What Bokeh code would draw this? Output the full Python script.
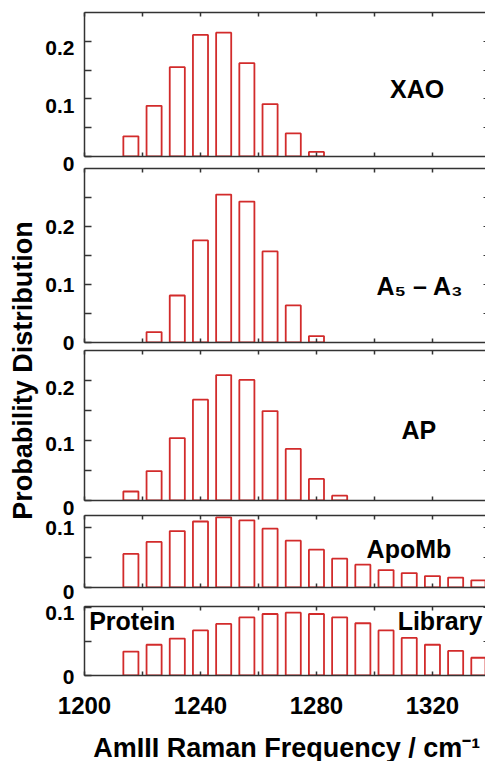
import math
from bokeh.plotting import figure
from bokeh.layouts import row, column
from bokeh.models import Range1d, LinearAxis, FixedTicker
from bokeh.core.properties import value
from bokeh.embed import file_html
from bokeh.resources import INLINE

# ---------------- data ----------------
freq = [1216, 1224, 1232, 1240, 1248, 1256, 1264, 1272,
        1280, 1288, 1296, 1304, 1312, 1320, 1328, 1336]

xao = [0.035, 0.088, 0.155, 0.211, 0.215, 0.162, 0.091, 0.040,
       0.008, 0, 0, 0, 0, 0, 0, 0]
a5_a3 = [0, 0.018, 0.081, 0.176, 0.255, 0.243, 0.157, 0.064,
         0.011, 0, 0, 0, 0, 0, 0, 0]
ap = [0.015, 0.049, 0.104, 0.168, 0.209, 0.201, 0.149, 0.086,
      0.036, 0.008, 0, 0, 0, 0, 0, 0]
apomb = [0.056, 0.076, 0.094, 0.110, 0.117, 0.112, 0.098, 0.078,
         0.063, 0.048, 0.038, 0.029, 0.024, 0.019, 0.0165, 0.012]
library = [0.035, 0.045, 0.054, 0.066, 0.0755, 0.085, 0.090, 0.092,
           0.090, 0.085, 0.0765, 0.066, 0.055, 0.045, 0.036, 0.026]

x_label_ticks = [1200, 1240, 1280, 1320]
x_minor_ticks = [1220, 1260, 1300, 1340]

y_max = [0.25, 0.30, 0.25, 0.12, 0.101]
y_label_ticks = [[0, 0.1, 0.2], [0, 0.1, 0.2], [0, 0.1, 0.2], [0, 0.1], [0, 0.1]]
y_all_ticks = [[0, 0.05, 0.1, 0.15, 0.2],
               [0, 0.05, 0.1, 0.15, 0.2, 0.25],
               [0, 0.05, 0.1, 0.15, 0.2],
               [0, 0.05, 0.1],
               [0, 0.05, 0.1]]

panel_names = ["XAO", "A\u2085 \u2013 A\u2083", "AP", "ApoMb"]
lib_names = ["Protein", "Library"]

x_title = "AmIII Raman Frequency / cm\u207b\u00b9"
y_title = "Probability Distribution"

# ---------------- style / layout ----------------
FONT = "Liberation Sans"
FRAME = "#333333"
BAR = "#d22b2b"
TOTAL_W = 485
TOTAL_H = 761
TOP_H = 688                      # height of the panel block
LEFT_W = 82                      # width of the label column
FRAME_L = 84                     # x of the panels' left edge
FIG_W = TOTAL_W - LEFT_W
frame_top = [12, 168, 350, 515, 606]
frame_h = [144, 174, 150, 72, 69]
label_dy = [[7, 7, 7], [0, 0, 0], [7, 3, 7], [4, 0], [1, 6]]
splits = [0, 162, 346, 508, 596, TOP_H]

X0, X1 = 1200, 1338.3
xr = Range1d(X0, X1)
bottoms = [t + h for t, h in zip(frame_top, frame_h)]


def make_panel(k, vals):
    h = splits[k + 1] - splits[k]
    bt = frame_top[k] - splits[k]
    bb = splits[k + 1] - bottoms[k]
    p = figure(width=FIG_W, height=h, x_range=xr, y_range=Range1d(0, y_max[k]),
               min_border_left=FRAME_L - LEFT_W, min_border_right=0,
               min_border_top=bt, min_border_bottom=bb,
               x_axis_location=None, y_axis_location=None,
               toolbar_location=None, output_backend="svg",
               outline_line_color=None, background_fill_color="white",
               border_fill_color="white")
    p.grid.visible = False
    xs = [f for f, v in zip(freq, vals) if v > 0]
    ys = [v for v in vals if v > 0]
    p.vbar(x=xs, top=ys, bottom=0, width=5.2, fill_color=None,
           line_color=BAR, line_width=1.8)

    ya = LinearAxis(ticker=FixedTicker(ticks=[], minor_ticks=y_all_ticks[k]))
    ya.minor_tick_in = 7
    ya.minor_tick_out = 0
    ya.major_tick_out = 0
    ya.major_label_standoff = 0
    ya.axis_line_color = FRAME
    ya.axis_line_width = 1.5
    ya.minor_tick_line_color = FRAME
    ya.minor_tick_line_width = 1.5
    p.add_layout(ya, "left")

    ra = LinearAxis(ticker=FixedTicker(ticks=[], minor_ticks=y_all_ticks[k]))
    ra.axis_line_color = None
    ra.minor_tick_in = 2
    ra.minor_tick_out = 0
    ra.major_tick_out = 0
    ra.major_label_standoff = 0
    ra.minor_tick_line_color = FRAME
    p.add_layout(ra, "right")

    for loc in ("above", "below"):
        xa = LinearAxis(ticker=FixedTicker(ticks=[],
                                           minor_ticks=x_label_ticks + x_minor_ticks))
        xa.major_label_standoff = 0
        xa.major_tick_out = 0
        xa.minor_tick_in = 4
        xa.minor_tick_out = 0
        for a in ("axis", "minor_tick"):
            setattr(xa, a + "_line_color", FRAME)
            setattr(xa, a + "_line_width", 1.5)
        p.add_layout(xa, loc)
    return p


def add_label(p, x, y, txt, align="center"):
    p.text(x=[x], y=[y], text=[txt], text_font=value(FONT),
           text_font_size="25px", text_font_style="bold",
           text_align=align, text_baseline="middle", text_color="black")


f1 = make_panel(0, xao)
add_label(f1, 1314.7, 0.118, panel_names[0])

f2 = make_panel(1, a5_a3)
add_label(f2, 1315.7, 0.098, panel_names[1])

f3 = make_panel(2, ap)
add_label(f3, 1315.3, 0.117, panel_names[2])

f4 = make_panel(3, apomb)
add_label(f4, 1311.9, 0.065, panel_names[3])

f5 = make_panel(4, library)
add_label(f5, 1201.6, 0.080, lib_names[0], align="left")
add_label(f5, 1308.0, 0.080, lib_names[1], align="left")

# ---------------- label column (y title + y tick labels) ----------------
yl = figure(width=LEFT_W, height=TOP_H, x_range=Range1d(0, LEFT_W),
            y_range=Range1d(0, TOP_H), min_border=0,
            x_axis_location=None, y_axis_location=None,
            toolbar_location=None, output_backend="svg",
            outline_line_color=None)
yl.grid.visible = False

for k in range(5):
    s = frame_h[k] / y_max[k]
    yl.extra_y_ranges["p%d" % k] = Range1d(-(TOP_H - bottoms[k]) / s,
                                           y_max[k] + frame_top[k] / s)
    ticks = y_label_ticks[k]
    for t, dy in zip(ticks, label_dy[k]):
        yl.text(x=[LEFT_W - 8], y=[t], text=["%g" % t], y_range_name="p%d" % k,
                y_offset=dy,
                text_font=value(FONT), text_font_size="21px",
                text_font_style="bold",
                text_align="right", text_baseline="middle", text_color="black")

yl.text(x=[22.5], y=[TOP_H - 370], text=[y_title], angle=math.pi / 2,
        text_font=value(FONT), text_font_size="27px", text_font_style="bold",
        text_align="center", text_baseline="middle", text_color="black")

# ---------------- bottom strip (x tick labels + x title) ----------------
BOT_H = TOTAL_H - TOP_H
px_per_unit = (FIG_W - (FRAME_L - LEFT_W)) / (X1 - X0)
xb = figure(width=TOTAL_W, height=BOT_H,
            x_range=Range1d(X0 - FRAME_L / px_per_unit, X1),
            y_range=Range1d(0, BOT_H), min_border=0,
            x_axis_location=None, y_axis_location=None,
            toolbar_location=None, output_backend="svg",
            outline_line_color=None)
xb.grid.visible = False
xb.text(x=x_label_ticks, y=[BOT_H - 17] * len(x_label_ticks),
        text=["%d" % t for t in x_label_ticks],
        text_font=value(FONT), text_font_size="24px", text_font_style="bold",
        text_align="center", text_baseline="middle", text_color="black")
xb.text(x=[(X0 + X1) / 2 + 0.6], y=[BOT_H - 59], text=[x_title],
        text_font=value(FONT), text_font_size="27px", text_font_style="bold",
        text_align="center", text_baseline="middle", text_color="black")

layout = column(row(yl, column(f1, f2, f3, f4, f5)), xb)

open("out.html", "w").write(file_html(layout, INLINE))
